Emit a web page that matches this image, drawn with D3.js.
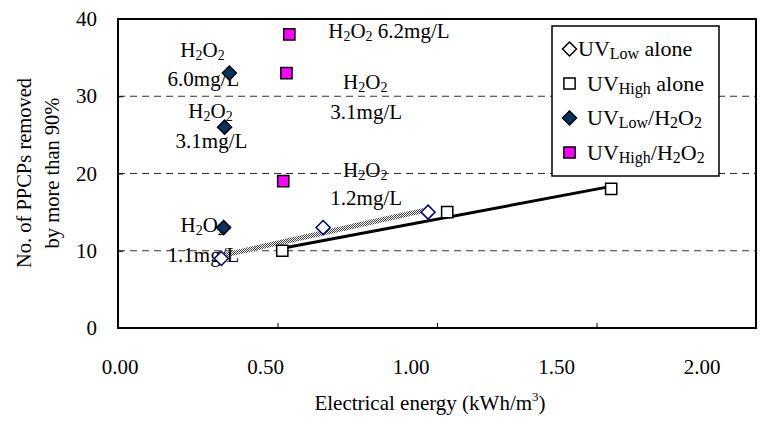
<!DOCTYPE html>
<html>
<head>
<meta charset="utf-8">
<script src="https://cdn.jsdelivr.net/npm/d3@7"></script>
<style>
  html, body { margin: 0; padding: 0; background: #fff; }
  svg { display: block; font-family: "Liberation Serif", "Times New Roman", Times, serif; }
</style>
</head>
<body>
<svg id="chart" width="773" height="421"></svg>
<script>
// Series: electrical energy (kWh/m3) vs number of PPCPs removed by more than 90%
const uvLowAloneX  = [0.324, 0.643, 0.972];
const uvLowAloneY  = [9, 13, 15];
const uvHighAloneX = [0.515, 1.032, 1.546];
const uvHighAloneY = [10, 15, 18];
const uvLowH2O2X   = [0.349, 0.334, 0.331];
const uvLowH2O2Y   = [33, 26, 13];
const uvHighH2O2X  = [0.537, 0.528, 0.518];
const uvHighH2O2Y  = [38, 33, 19];

const xTicks = [0, 0.5, 1.0, 1.5, 2.0];
const yTicks = [0, 10, 20, 30, 40];
const gridValues = [10, 20, 30];

// Dose annotations ("_{..}" marks a subscript), anchored in data units
const noteText = ["H_{2}O_{2}", "6.0mg/L", "H_{2}O_{2}", "3.1mg/L", "H_{2}O_{2} 6.2mg/L",
                  "H_{2}O_{2}", "3.1mg/L", "H_{2}O_{2}", "1.2mg/L", "H_{2}O_{2}", "1.1mg/L"];
const noteX    = [0.265, 0.268, 0.290, 0.293, 0.659, 0.775, 0.778, 0.775, 0.778, 0.196, 0.268];
const noteY    = [35.1, 31.3, 27.2, 23.3, 37.5, 30.9, 27.1, 19.5, 15.9, 12.4, 8.5];
const noteAnchor = ["middle", "middle", "middle", "middle", "start",
                    "middle", "middle", "middle", "middle", "start", "middle"];

const legendLabels = ["UV_{Low} alone", "UV_{High} alone", "UV_{Low}/H_{2}O_{2}", "UV_{High}/H_{2}O_{2}"];

const svg = d3.select("#chart");
const plotL = 118, plotR = 756, plotT = 19, plotB = 328;

const x = d3.scaleLinear().domain([0, 2]).range([plotL, plotR]);
const y = d3.scaleLinear().domain([0, 40]).range([plotB, plotT]);
// tick labels sit on their own slightly tighter spacing
const xLabel = d3.scaleLinear().domain([0, 2]).range([120, 702]);

// rich text helper: "_{..}" rendered as subscript
function rich(sel, str, size, subSize, drop) {
  const parts = str.split(/(_\{[^}]*\})/).filter(s => s.length);
  let shifted = false;
  parts.forEach(p => {
    const m = p.match(/^_\{([^}]*)\}$/);
    if (m) {
      sel.append("tspan").attr("font-size", subSize).attr("dy", shifted ? 0 : drop).text(m[1]);
      shifted = true;
    } else {
      sel.append("tspan").attr("font-size", size).attr("dy", shifted ? -drop : 0).text(p);
      shifted = false;
    }
  });
}

// grid
svg.append("g").selectAll("line").data(gridValues).join("line")
  .attr("x1", plotL).attr("x2", plotR)
  .attr("y1", d => y(d)).attr("y2", d => y(d))
  .attr("stroke", "#333").attr("stroke-width", 1)
  .attr("stroke-dasharray", "7,5");

// axes with inward ticks
const xAxis = svg.append("g").attr("transform", `translate(0,${plotB})`)
  .call(d3.axisBottom(x).tickValues(xTicks).tickSize(-5).tickFormat(""));
const yAxis = svg.append("g").attr("transform", `translate(${plotL},0)`)
  .call(d3.axisLeft(y).tickValues(yTicks).tickSize(-5).tickFormat(""));
[xAxis, yAxis].forEach(a => {
  a.select(".domain").remove();
  a.selectAll("line").attr("stroke", "#000").attr("stroke-width", 1);
});

// plot frame
svg.append("rect").attr("x", plotL).attr("y", plotT)
  .attr("width", plotR - plotL).attr("height", plotB - plotT)
  .attr("fill", "none").attr("stroke", "#000").attr("stroke-width", 2);

// tick labels
svg.append("g").selectAll("text").data(xTicks).join("text")
  .attr("x", d => xLabel(d)).attr("y", 374)
  .attr("text-anchor", "middle").attr("font-size", 21)
  .text(d => d.toFixed(2));
svg.append("g").selectAll("text").data(yTicks).join("text")
  .attr("x", 97).attr("y", d => y(d) + 7)
  .attr("text-anchor", "end").attr("font-size", 21)
  .text(d => d);

// axis titles
const xt = svg.append("text").attr("x", 430).attr("y", 410)
  .attr("text-anchor", "middle").attr("font-size", 21);
xt.append("tspan").text("Electrical energy (kWh/m");
xt.append("tspan").attr("font-size", 13).attr("dy", -9).text("3");
xt.append("tspan").attr("dy", 9).text(")");

const yt = svg.append("text").attr("transform", "translate(0,173) rotate(-90)")
  .attr("text-anchor", "middle").attr("font-size", 20.5);
yt.append("tspan").attr("x", 0).attr("y", 31).text("No. of PPCPs removed");
yt.append("tspan").attr("x", 0).attr("y", 59).text("by more than 90%");

// hatched band used for the UV-low trend line
const defs = svg.append("defs");
const pat = defs.append("pattern").attr("id", "hatch")
  .attr("patternUnits", "userSpaceOnUse").attr("width", 2).attr("height", 2);
pat.append("rect").attr("width", 2).attr("height", 2).attr("fill", "#fff");
pat.append("rect").attr("width", 1).attr("height", 1).attr("fill", "#444");
pat.append("rect").attr("x", 1).attr("y", 1).attr("width", 1).attr("height", 1).attr("fill", "#444");

// least-squares trend line across the range of x
function trend(xs, ys) {
  const mx = d3.mean(xs), my = d3.mean(ys);
  const sxy = d3.sum(xs, (v, i) => (v - mx) * (ys[i] - my));
  const sxx = d3.sum(xs, v => (v - mx) * (v - mx));
  const b = sxy / sxx, a = my - b * mx;
  const x0 = d3.min(xs), x1 = d3.max(xs);
  return [[x0, a + b * x0], [x1, a + b * x1]];
}
const line = d3.line().x(d => x(d[0])).y(d => y(d[1]));

svg.append("path").attr("d", line(trend(uvLowAloneX, uvLowAloneY)))
  .attr("stroke", "url(#hatch)").attr("stroke-width", 5).attr("fill", "none");
svg.append("path").attr("d", line(trend(uvHighAloneX, uvHighAloneY)))
  .attr("stroke", "#000").attr("stroke-width", 3).attr("fill", "none");

// annotations
const notes = svg.append("g");
noteText.forEach((t, i) => {
  const tx = notes.append("text").attr("x", x(noteX[i])).attr("y", y(noteY[i]))
    .attr("text-anchor", noteAnchor[i]);
  rich(tx, t, 21, 14, 3);
});

// markers
const diamond = d3.symbol().type(d3.symbolDiamond2).size(125);
const square = d3.symbol().type(d3.symbolSquare2).size(160);

function markers(xs, ys, gen, fill, stroke, sw) {
  svg.append("g").selectAll("path").data(xs).join("path")
    .attr("transform", (d, i) => `translate(${x(d)},${y(ys[i])})`)
    .attr("d", gen).attr("fill", fill).attr("stroke", stroke).attr("stroke-width", sw);
}
markers(uvLowAloneX, uvLowAloneY, diamond, "#fff", "#000080", 1.5);
markers(uvHighAloneX, uvHighAloneY, square, "#fff", "#000", 1.5);
markers(uvLowH2O2X, uvLowH2O2Y, diamond, "#003366", "#000", 1.5);
markers(uvHighH2O2X, uvHighH2O2Y, square, "#ff00ff", "#000", 1.5);

// legend
const lg = svg.append("g");
lg.append("rect").attr("x", 552).attr("y", 26).attr("width", 167).attr("height", 150)
  .attr("fill", "#fff").attr("stroke", "#000").attr("stroke-width", 1.5);
const lgGen = [diamond, square, diamond, square];
const lgFill = ["#fff", "#fff", "#003366", "#ff00ff"];
const lgTextX = [578, 587, 587, 587];
legendLabels.forEach((t, i) => {
  const cy = 49 + i * 34.5;
  lg.append("path").attr("transform", `translate(569.5,${cy})`)
    .attr("d", lgGen[i]).attr("fill", lgFill[i]).attr("stroke", "#000").attr("stroke-width", 1.5);
  const tx = lg.append("text").attr("x", lgTextX[i]).attr("y", cy + 7);
  rich(tx, t, 22, 16, 3);
});
</script>
</body>
</html>
